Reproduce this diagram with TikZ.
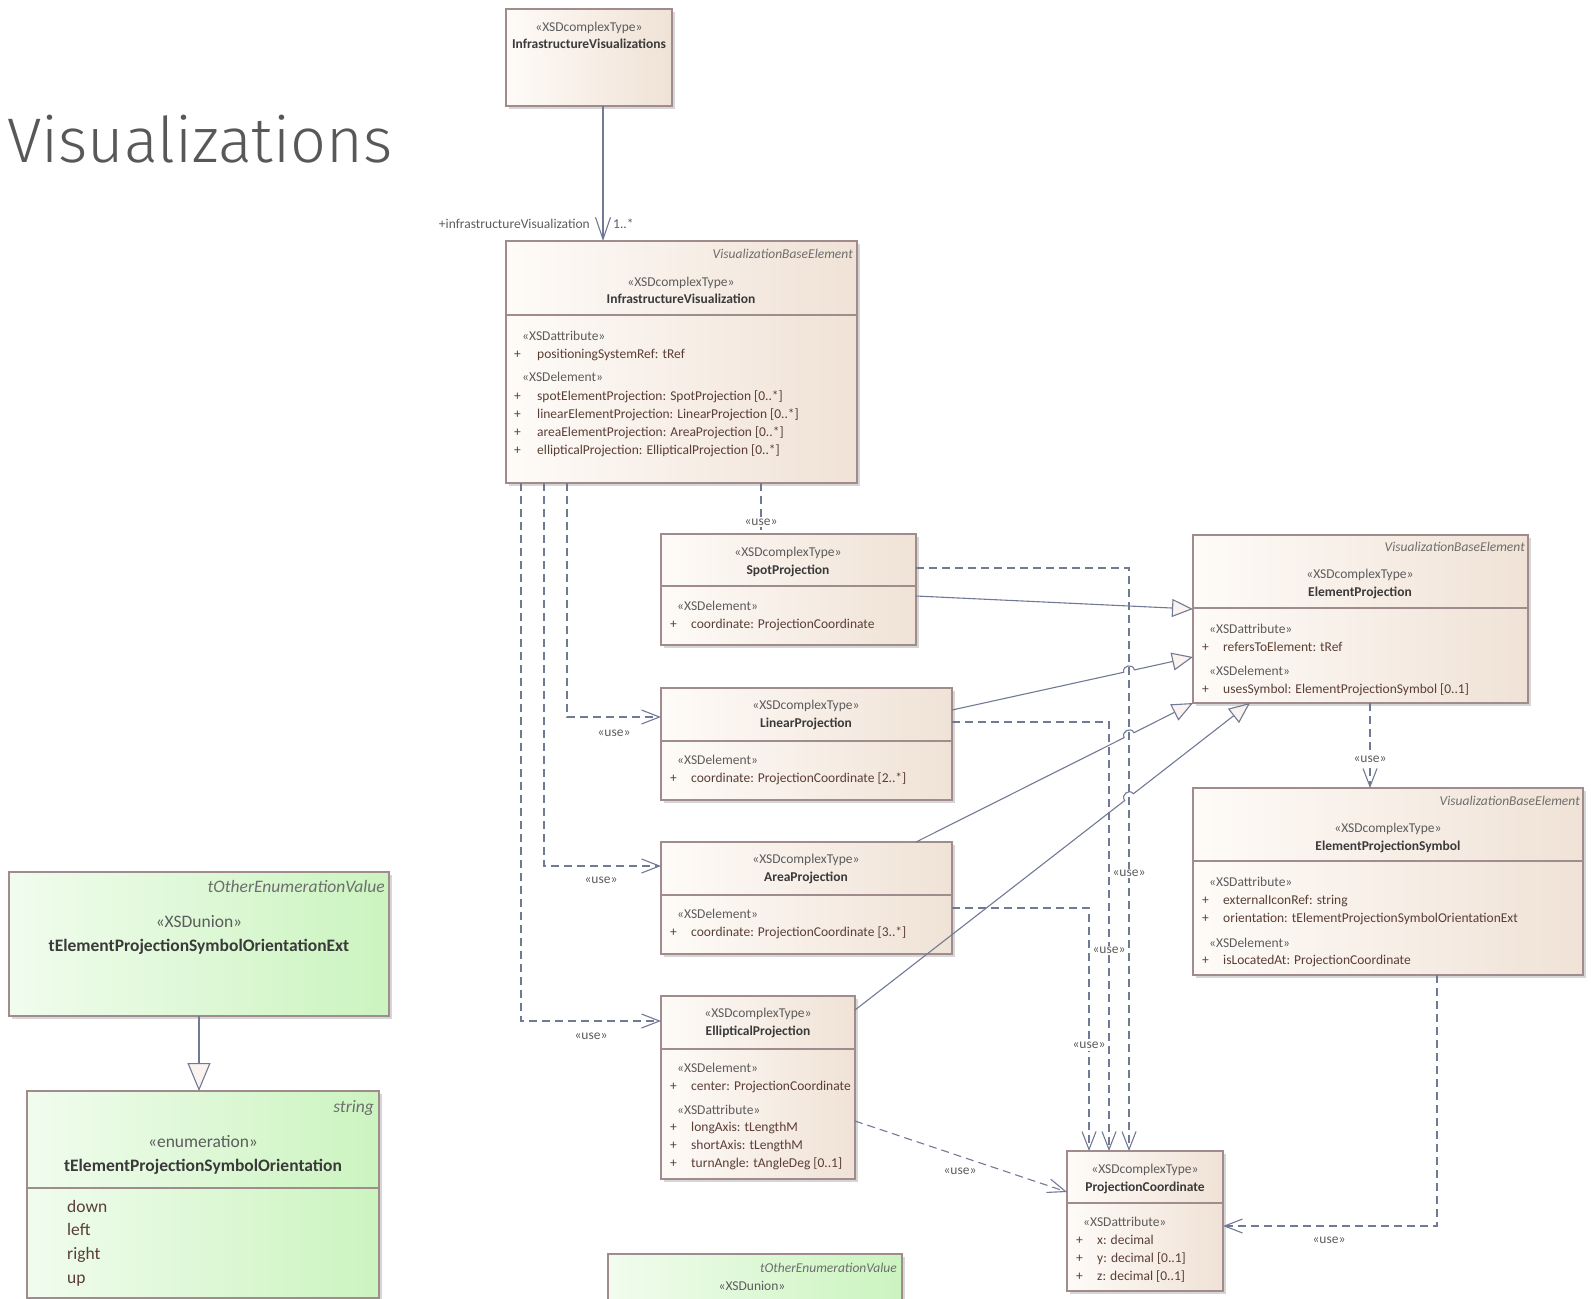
\documentclass[tikz,border=0pt]{standalone}
\usepackage{fontspec}
\setmainfont{Carlito}
\IfFontExistsTF{Fira Sans Light}{\newfontfamily\titlefont{Fira Sans Light}}{\newfontfamily\titlefont{Fira Sans}}
\usetikzlibrary{arrows.meta,calc,fit}

\definecolor{begL}{HTML}{FEFBF8}
\definecolor{begR}{HTML}{F0E2D6}
\definecolor{grnL}{HTML}{F1FCEE}
\definecolor{grnR}{HTML}{CBF4BF}
\definecolor{bordc}{HTML}{A08C8C}
\definecolor{shadowc}{HTML}{D6D6D6}
\definecolor{linec}{HTML}{707A94}
\definecolor{stc}{HTML}{5C5C5C}
\definecolor{namec}{HTML}{3A3A3A}
\definecolor{attc}{HTML}{5A3E36}
\definecolor{itc}{HTML}{6E6E6E}
\definecolor{titlec}{HTML}{585858}
\definecolor{trif}{HTML}{FAF3EF}

\newcommand\fsA{\fontsize{13.5}{16}\selectfont}
\newcommand\fsG{\fontsize{17.5}{21}\selectfont}
\newcommand\fsL{\fontsize{13.5}{16}\selectfont}

\tikzset{
  cls/.style={draw=bordc, line width=1.3pt, inner sep=0pt, outer sep=0pt, left color=begL, right color=begR},
  gcls/.style={draw=bordc, line width=1.3pt, inner sep=0pt, outer sep=0pt, left color=grnL, right color=grnR},
  sepl/.style={draw=bordc, line width=1.3pt},
  txt/.style={inner sep=0pt, yshift=-2.5pt},
  stereo/.style={txt, text=stc, font=\fsA},
  cname/.style={txt, text=namec, font=\fsA\bfseries},
  itl/.style={txt, text=itc, font=\fsA\itshape},
  attr/.style={txt, text=attc, font=\fsA},
  gstereo/.style={txt, text=stc, font=\fsG},
  gname/.style={txt, text=namec, font=\fsG\bfseries},
  gitl/.style={txt, text=itc, font=\fsG\itshape},
  gattr/.style={txt, text=attc, font=\fsG},
  lbl/.style={txt, text=stc, font=\fsL},
  lblw/.style={lbl, fill=white, inner sep=1.5pt},
  conn/.style={draw=linec, line width=1.1pt},
  dep/.style={conn, dash pattern=on 8pt off 5pt, -{Straight Barb[length=18pt,width=14pt]}},
  gen/.style={conn, -{Triangle[length=21pt,width=18pt,fill=trif]}},
  ggen/.style={conn, -{Triangle[length=28pt,width=23pt,fill=trif]}},
  assoc/.style={conn, -{Straight Barb[length=22pt,width=15pt]}},
}

% name, style, x1, y1, x2, y2
\newcommand\plainbox[6]{%
  \fill[shadowc] (#3+3,#4+3) rectangle (#5+3,#6+3);
  \node[#2, fit={(#3,#4) (#5,#6)}] (#1) {};}
% name, style, x1, y1, x2, y2, sep
\newcommand\umlbox[7]{%
  \plainbox{#1}{#2}{#3}{#4}{#5}{#6}%
  \draw[sepl] (#3,#7) -- (#5,#7);}
% name, plus x, text x, y, text
\newcommand\arow[5]{%
  \node[attr, anchor=mid west] (#1p) at (#2,#4) {+};
  \node[attr, anchor=mid west] (#1t) at (#3,#4) {#5};}

\begin{document}
\begin{tikzpicture}[x=1pt,y=-1pt]
\useasboundingbox (0,0) rectangle (1591,1299);
\clip (0,0) rectangle (1591,1299);

% title
\node[anchor=base west, inner sep=0pt, text=titlec, font=\titlefont\fontsize{63}{72}\selectfont] (title) at (7,162) {Visualizations};

% ---------- boxes ----------
\plainbox{infras}{cls}{506}{9}{672}{106}
\node[stereo, anchor=mid] (infrasS) at (589,27) {«XSDcomplexType»};
\node[cname, anchor=mid] (infrasN) at (589,44) {InfrastructureVisualizations};

\umlbox{infravis}{cls}{506}{241}{857}{483}{315}
\node[itl, anchor=mid east] (ivI) at (853,254) {VisualizationBaseElement};
\node[stereo, anchor=mid] (ivS) at (681,282) {«XSDcomplexType»};
\node[cname, anchor=mid] (ivN) at (681,299) {InfrastructureVisualization};
\node[stereo, anchor=mid west] (ivA) at (522,336) {«XSDattribute»};
\arow{iv1}{514}{537}{354}{positioningSystemRef: tRef}
\node[stereo, anchor=mid west] (ivE) at (522,377) {«XSDelement»};
\arow{iv2}{514}{537}{396}{spotElementProjection: SpotProjection [0..*]}
\arow{iv3}{514}{537}{414}{linearElementProjection: LinearProjection [0..*]}
\arow{iv4}{514}{537}{432}{areaElementProjection: AreaProjection [0..*]}
\arow{iv5}{514}{537}{450}{ellipticalProjection: EllipticalProjection [0..*]}

\umlbox{spot}{cls}{661}{534}{916}{645}{586}
\node[stereo, anchor=mid] (spS) at (788,552) {«XSDcomplexType»};
\node[cname, anchor=mid] (spN) at (788,570) {SpotProjection};
\node[stereo, anchor=mid west] (spE) at (677,606) {«XSDelement»};
\arow{sp1}{670}{691}{624}{coordinate: ProjectionCoordinate}

\umlbox{linear}{cls}{661}{688}{952}{800}{741}
\node[stereo, anchor=mid] (liS) at (806,705) {«XSDcomplexType»};
\node[cname, anchor=mid] (liN) at (806,723) {LinearProjection};
\node[stereo, anchor=mid west] (liE) at (677,760) {«XSDelement»};
\arow{li1}{670}{691}{778}{coordinate: ProjectionCoordinate [2..*]}

\umlbox{area}{cls}{661}{842}{952}{954}{895}
\node[stereo, anchor=mid] (arS) at (806,859) {«XSDcomplexType»};
\node[cname, anchor=mid] (arN) at (806,877) {AreaProjection};
\node[stereo, anchor=mid west] (arE) at (677,914) {«XSDelement»};
\arow{ar1}{670}{691}{932}{coordinate: ProjectionCoordinate [3..*]}

\umlbox{ellip}{cls}{661}{996}{855}{1179}{1049}
\node[stereo, anchor=mid] (elS) at (758,1013) {«XSDcomplexType»};
\node[cname, anchor=mid] (elN) at (758,1031) {EllipticalProjection};
\node[stereo, anchor=mid west] (elE) at (677,1068) {«XSDelement»};
\arow{el1}{670}{691}{1086}{center: ProjectionCoordinate}
\node[stereo, anchor=mid west] (elA) at (677,1110) {«XSDattribute»};
\arow{el2}{670}{691}{1127}{longAxis: tLengthM}
\arow{el3}{670}{691}{1145}{shortAxis: tLengthM}
\arow{el4}{670}{691}{1163}{turnAngle: tAngleDeg [0..1]}

\umlbox{ep}{cls}{1193}{535}{1528}{703}{608}
\node[itl, anchor=mid east] (epI) at (1525,547) {VisualizationBaseElement};
\node[stereo, anchor=mid] (epS) at (1360,574) {«XSDcomplexType»};
\node[cname, anchor=mid] (epN) at (1360,592) {ElementProjection};
\node[stereo, anchor=mid west] (epA) at (1209,629) {«XSDattribute»};
\arow{ep1}{1202}{1223}{647}{refersToElement: tRef}
\node[stereo, anchor=mid west] (epE) at (1209,671) {«XSDelement»};
\arow{ep2}{1202}{1223}{689}{usesSymbol: ElementProjectionSymbol [0..1]}

\umlbox{eps}{cls}{1193}{788}{1583}{975}{861}
\node[itl, anchor=mid east] (esI) at (1580,801) {VisualizationBaseElement};
\node[stereo, anchor=mid] (esS) at (1388,828) {«XSDcomplexType»};
\node[cname, anchor=mid] (esN) at (1388,846) {ElementProjectionSymbol};
\node[stereo, anchor=mid west] (esA) at (1209,882) {«XSDattribute»};
\arow{es1}{1202}{1223}{900}{externalIconRef: string}
\arow{es2}{1202}{1223}{918}{orientation: tElementProjectionSymbolOrientationExt}
\node[stereo, anchor=mid west] (esE) at (1209,943) {«XSDelement»};
\arow{es3}{1202}{1223}{960}{isLocatedAt: ProjectionCoordinate}

\umlbox{pc}{cls}{1067}{1151}{1223}{1291}{1203}
\node[stereo, anchor=mid] (pcS) at (1145,1169) {«XSDcomplexType»};
\node[cname, anchor=mid] (pcN) at (1145,1187) {ProjectionCoordinate};
\node[stereo, anchor=mid west] (pcA) at (1083,1222) {«XSDattribute»};
\arow{pc1}{1076}{1097}{1240}{x: decimal}
\arow{pc2}{1076}{1097}{1258}{y: decimal [0..1]}
\arow{pc3}{1076}{1097}{1276}{z: decimal [0..1]}

% green boxes
\plainbox{ext}{gcls}{9}{872}{389}{1016}
\node[gitl, anchor=mid east] (exI) at (385,888) {tOtherEnumerationValue};
\node[gstereo, anchor=mid] (exS) at (199,923) {«XSDunion»};
\node[gname, anchor=mid] (exN) at (199,947) {tElementProjectionSymbolOrientationExt};

\umlbox{enum}{gcls}{27}{1091}{379}{1298}{1188}
\node[gitl, anchor=mid east] (enI) at (374,1108) {string};
\node[gstereo, anchor=mid] (enS) at (203,1143) {«enumeration»};
\node[gname, anchor=mid] (enN) at (203,1167) {tElementProjectionSymbolOrientation};
\node[gattr, anchor=mid west] (en1) at (67,1208) {down};
\node[gattr, anchor=mid west] (en2) at (67,1231) {left};
\node[gattr, anchor=mid west] (en3) at (67,1255) {right};
\node[gattr, anchor=mid west] (en4) at (67,1279) {up};

\plainbox{bot}{gcls}{608}{1254}{902}{1330}
\node[itl, anchor=mid east] (boI) at (897,1268) {tOtherEnumerationValue};
\node[stereo, anchor=mid] (boS) at (752,1286) {«XSDunion»};

% ---------- connectors ----------
% association
\draw[assoc] ([xshift=97pt]infras.south west) -- ([xshift=97pt]infravis.north west);
\node[lbl, anchor=mid east] (asL) at (590,224) {+infrastructureVisualization};
\node[lbl, anchor=mid west] (asM) at (613,224) {1..*};

% uses from InfrastructureVisualization
\draw[dep] ([xshift=61pt]infravis.south west) |- ([yshift=-29pt]linear.north west);
\node[lbl, anchor=mid] (u1) at (614,732) {«use»};
\draw[dep] ([xshift=38pt]infravis.south west) |- ([yshift=-24pt]area.north west);
\node[lbl, anchor=mid] (u2) at (601,879) {«use»};
\draw[dep] ([xshift=15pt]infravis.south west) |- ([yshift=-25pt]ellip.north west);
\node[lbl, anchor=mid] (u3) at (591,1035) {«use»};
\draw[conn, dash pattern=on 8pt off 5pt] ([xshift=255pt]infravis.south west) -- ([xshift=100pt]spot.north west);
\node[lblw, anchor=mid] (u4) at (761,521) {«use»};

% uses to ProjectionCoordinate
\draw[dep] ([yshift=-34pt]spot.north east) -| ([xshift=62pt]pc.north west);
\node[lblw, anchor=mid] (u5) at (1129,872) {«use»};
\draw[dep] ([yshift=-34pt]linear.north east) -| ([xshift=42pt]pc.north west);
\node[lblw, anchor=mid] (u6) at (1109,949) {«use»};
\draw[dep] ([yshift=-66pt]area.north east) -| ([xshift=22pt]pc.north west);
\node[lblw, anchor=mid] (u7) at (1089,1044) {«use»};
\draw[dep] ([yshift=-125pt]ellip.north east) -- ([yshift=-41pt]pc.north west);
\node[lbl, anchor=mid] (u8) at (960,1170) {«use»};
\draw[dep] ([xshift=177pt]ep.south west) -- ([xshift=177pt]eps.north west);
\node[lblw, anchor=mid] (u9) at (1370,758) {«use»};
\draw[dep] ([xshift=244pt]eps.south west) |- ([yshift=-75pt]pc.north east);
\node[lbl, anchor=mid] (u10) at (1329,1239) {«use»};

% generalizations to ElementProjection
\draw[gen] ([yshift=-62pt]spot.north east) -- ([yshift=-74pt]ep.north west);

\coordinate (vt) at ([xshift=62pt]pc.north west |- spot.north);
\coordinate (vb) at ([xshift=62pt]pc.north west);

\coordinate (ls) at ([yshift=-22pt]linear.north east);
\coordinate (lt) at ([yshift=-122pt]ep.north west);
\coordinate (lh) at (intersection of ls--lt and vt--vb);
\coordinate (lhA) at ($(lh)!5.5pt!(ls)$);
\coordinate (lhB) at ($(lh)!5.5pt!(lt)$);
\draw[gen] (ls) -- (lhA) .. controls ($(lhA)!7pt!90:(lh)$) and ($(lhB)!7pt!-90:(lh)$) .. (lhB) -- (lt);

\coordinate (as) at ([xshift=255pt]area.north west);
\coordinate (at) at (ep.south west);
\coordinate (ah) at (intersection of as--at and vt--vb);
\coordinate (ahA) at ($(ah)!5.5pt!(as)$);
\coordinate (ahB) at ($(ah)!5.5pt!(at)$);
\draw[gen] (as) -- (ahA) .. controls ($(ahA)!7pt!90:(ah)$) and ($(ahB)!7pt!-90:(ah)$) .. (ahB) -- (at);

\coordinate (es) at ([yshift=-14pt]ellip.north east);
\coordinate (et) at ([xshift=57pt]ep.south west);
\coordinate (eh) at (intersection of es--et and vt--vb);
\coordinate (ehA) at ($(eh)!5.5pt!(es)$);
\coordinate (ehB) at ($(eh)!5.5pt!(et)$);
\draw[gen] (es) -- (ehA) .. controls ($(ehA)!7pt!90:(eh)$) and ($(ehB)!7pt!-90:(eh)$) .. (ehB) -- (et);

% green generalization
\draw[ggen] ([xshift=190pt]ext.south west) -- ([xshift=172pt]enum.north west);

\end{tikzpicture}
\end{document}
